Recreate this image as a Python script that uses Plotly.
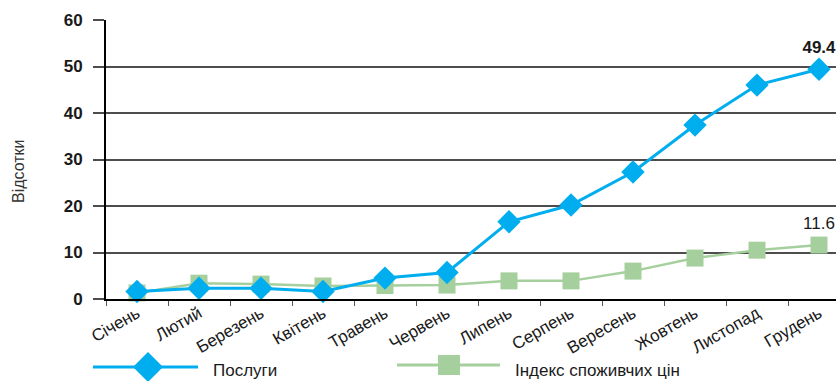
import plotly.graph_objects as go

months = ["Січень", "Лютий", "Березень", "Квітень", "Травень", "Червень",
          "Липень", "Серпень", "Вересень", "Жовтень", "Листопад", "Грудень"]
services = [1.6, 2.3, 2.3, 1.6, 4.5, 5.7, 16.6, 20.2, 27.3, 37.4, 46.0, 49.4]
cpi = [1.3, 3.4, 3.2, 2.8, 2.9, 3.0, 3.9, 3.9, 6.0, 8.8, 10.5, 11.6]
y_ticks = [0, 10, 20, 30, 40, 50, 60]
series_names = ["Послуги", "Індекс споживчих цін"]
y_title = "Відсотки"

BLUE = "#00AEEF"
GREEN = "#A6CF9E"
FONT = "Liberation Sans, Arial, sans-serif"

W, H = 836, 381
L, T, B = 106, 20, 82
PW, PH = W - L, H - T - B


def px(x):
    return (x - L) / PW


def py(y):
    return (H - B - y) / PH


def last_label(vals):
    return [""] * (len(vals) - 1) + [f"{vals[-1]:.1f}"]


fig = go.Figure()
fig.add_trace(go.Scatter(
    x=months, y=cpi, mode="lines+markers+text", name=series_names[1],
    line=dict(color=GREEN, width=2.5),
    marker=dict(symbol="square", size=17, color=GREEN),
    text=last_label(cpi), textposition="top center",
    textfont=dict(family=FONT, size=17, color="#1a1a1a"),
    cliponaxis=False, showlegend=False,
))
fig.add_trace(go.Scatter(
    x=months, y=services, mode="lines+markers+text", name=series_names[0],
    line=dict(color=BLUE, width=3),
    marker=dict(symbol="diamond", size=18, color=BLUE),
    text=last_label(services), textposition="top center",
    textfont=dict(family=FONT, size=17, color="#1a1a1a", weight="bold"),
    cliponaxis=False, showlegend=False,
))

# custom legend (layout decoration)
shapes = [
    dict(type="line", xref="paper", yref="paper", x0=px(93), x1=px(198), y0=py(367), y1=py(367),
         line=dict(color=BLUE, width=3)),
    dict(type="path", xref="paper", yref="paper",
         path=f"M {px(133)} {py(367)} L {px(148)} {py(352)} L {px(163)} {py(367)} L {px(148)} {py(382)} Z",
         fillcolor=BLUE, line=dict(width=0)),
    dict(type="line", xref="paper", yref="paper", x0=px(397), x1=px(500), y0=py(365), y1=py(365),
         line=dict(color=GREEN, width=3)),
    dict(type="rect", xref="paper", yref="paper", x0=px(438), x1=px(460), y0=py(355), y1=py(375),
         fillcolor=GREEN, line=dict(width=0)),
]
annotations = [
    dict(text=series_names[0], xref="paper", yref="paper", x=px(212), y=py(380.5),
         xanchor="left", yanchor="bottom", showarrow=False, borderpad=0,
         font=dict(family=FONT, size=17, color="#1a1a1a")),
    dict(text=series_names[1], xref="paper", yref="paper", x=px(514), y=py(380.5),
         xanchor="left", yanchor="bottom", showarrow=False, borderpad=0,
         font=dict(family=FONT, size=17, color="#1a1a1a")),
    dict(text=y_title, xref="paper", yref="paper", x=px(18), y=py(171),
         xanchor="center", yanchor="middle", textangle=-90, showarrow=False,
         font=dict(family=FONT, size=16, color="#333")),
]

fig.update_layout(
    width=W, height=H,
    margin=dict(l=L, r=0, t=T, b=B, pad=0),
    paper_bgcolor="white", plot_bgcolor="white",
    font=dict(family=FONT, color="#1a1a1a"),
    shapes=shapes, annotations=annotations,
    showlegend=False,
)
fig.update_xaxes(
    type="category", categoryorder="array", categoryarray=months,
    range=[-0.5, len(months) - 0.5 - 14 / 62],
    showline=True, linecolor="black", linewidth=2,
    showgrid=False, ticks="outside", tickson="boundaries", ticklen=5,
    tickcolor="#555", tickwidth=1, ticklabelstandoff=-4,
    tickangle=-30, tickfont=dict(family=FONT, size=17, color="#1a1a1a"),
)
fig.update_yaxes(
    range=[0, 60], tickvals=y_ticks,
    showline=True, linecolor="black", linewidth=2,
    showgrid=True, gridcolor="#4d4d4d", gridwidth=1.5,
    zeroline=False,
    ticks="outside", ticklen=11, tickcolor="#4d4d4d", tickwidth=1.5,
    ticklabelstandoff=7,
    tickfont=dict(family=FONT, size=17, color="#1a1a1a", weight="bold"),
)

fig.write_html("out.html")
